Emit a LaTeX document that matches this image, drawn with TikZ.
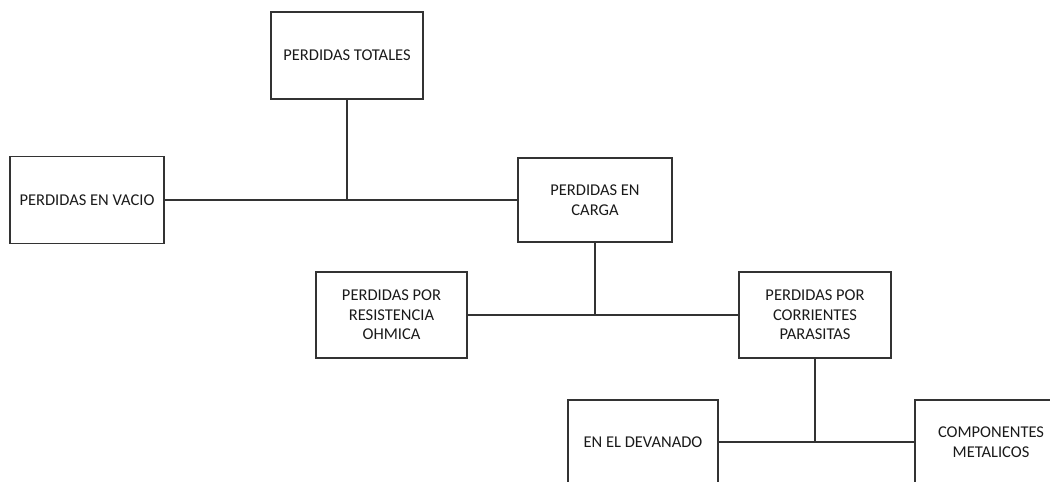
\documentclass[tikz,border=0pt]{standalone}
\usepackage{fontspec}
\setmainfont{Carlito}
\definecolor{linec}{HTML}{333333}
\definecolor{textc}{HTML}{1A1A1A}
\begin{document}
\begin{tikzpicture}[x=1pt,y=1pt,
  box/.style={draw=linec, line width=1.6pt, rectangle, inner sep=0pt, align=center,
    text=textc, font=\fontsize{16.5}{19.5}\selectfont},
  conn/.style={draw=linec, line width=1.6pt}]
\useasboundingbox (0,0) rectangle (1050,-482);
\clip (0,0) rectangle (1050,-482);
\node[box, minimum width=152pt, minimum height=87pt] (totales) at (347,-55.5) {PERDIDAS TOTALES};
\node[box, minimum width=154pt, minimum height=87pt] (vacio) at (87,-200) {PERDIDAS EN VACIO};
\node[box, minimum width=154pt, minimum height=84pt] (carga) at (595,-200) {PERDIDAS EN\\CARGA};
\node[box, minimum width=151pt, minimum height=86pt] (ohmica) at (391.5,-315) {PERDIDAS POR\\RESISTENCIA\\OHMICA};
\node[box, minimum width=152pt, minimum height=86pt] (parasitas) at (815,-315) {PERDIDAS POR\\CORRIENTES\\PARASITAS};
\node[box, minimum width=150pt, minimum height=84pt] (devanado) at (643,-442) {EN EL DEVANADO};
\node[box, minimum width=152pt, minimum height=84pt] (componentes) at (991,-442) {COMPONENTES\\METALICOS};
\coordinate (j1) at (totales.south |- vacio.east);
\coordinate (j2) at (carga.south |- ohmica.east);
\coordinate (j3) at (parasitas.south |- devanado.east);
\draw[conn] (vacio.east) -- (carga.west);
\draw[conn] (totales.south) -- (j1);
\draw[conn] (ohmica.east) -- (parasitas.west);
\draw[conn] (carga.south) -- (j2);
\draw[conn] (devanado.east) -- (componentes.west);
\draw[conn] (parasitas.south) -- (j3);
\end{tikzpicture}
\end{document}
